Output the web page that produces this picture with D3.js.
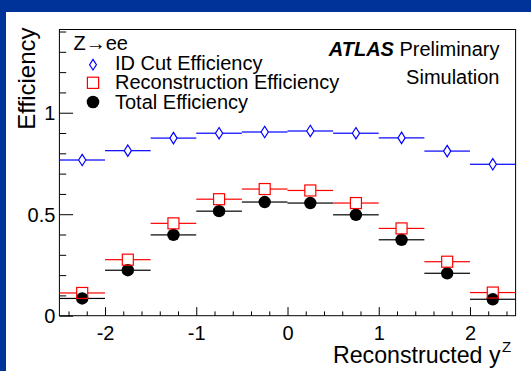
<!DOCTYPE html>
<html>
<head>
<meta charset="utf-8">
<script src="https://cdn.jsdelivr.net/npm/d3@7/dist/d3.min.js"></script>
<style>
  html, body { margin: 0; padding: 0; background: #fff; }
  svg { display: block; font-family: "Liberation Sans", Arial, Helvetica, sans-serif; }
</style>
</head>
<body>
<svg id="chart" width="531" height="371"></svg>
<script>
// Z -> ee efficiencies per bin of reconstructed boson rapidity
const rapidityBins = [-2.25, -1.75, -1.25, -0.75, -0.25, 0.25, 0.75, 1.25, 1.75, 2.25];
const binHalfWidth = 0.25;
const idCutEff = [0.767, 0.813, 0.875, 0.899, 0.905, 0.910, 0.899, 0.876, 0.811, 0.746];
const recoEff  = [0.112, 0.276, 0.455, 0.574, 0.624, 0.617, 0.555, 0.430, 0.266, 0.114];
const totalEff = [0.085, 0.224, 0.398, 0.515, 0.560, 0.555, 0.497, 0.374, 0.209, 0.081];

const xMajorTicks = [-2, -1, 0, 1, 2];
const xTickLabels = ["-2", "-1", "0", "1", "2"];
const yMajorTicks = [0, 0.5, 1];
const yTickLabels = ["0", "0.5", "1"];
const legendLabels = ["ID Cut Efficiency", "Reconstruction Efficiency", "Total Efficiency"];

const svg = d3.select("#chart");
const W = 531, H = 371;

// slide frame
svg.append("rect").attr("width", W).attr("height", H).attr("fill", "#003399");
svg.append("rect").attr("x", 6).attr("y", 12).attr("width", W - 6).attr("height", H - 12).attr("fill", "#fff");

const plot = { left: 59.4, right: 515.6, top: 29.5, bottom: 315.7 };
const x = d3.scaleLinear().domain([-2.5, 2.5]).range([plot.left, plot.right]);
const y = d3.scaleLinear().domain([0, 1.41]).range([plot.bottom, plot.top]);

// minor ticks
const xMinor = d3.range(-2.4, 2.41, 0.2).map(v => +v.toFixed(1)).filter(v => !xMajorTicks.includes(v));
const yMinor = d3.range(0.1, 1.41, 0.1).map(v => +v.toFixed(1)).filter(v => !yMajorTicks.includes(v));

const axisStyle = g => {
  g.select(".domain").remove();
  g.selectAll(".tick line").attr("stroke", "#000").attr("stroke-width", 1);
};

svg.append("g").attr("transform", `translate(0,${plot.bottom})`)
  .call(d3.axisBottom(x).tickValues(xMinor).tickSize(-4.3).tickFormat(""))
  .call(axisStyle);
svg.append("g").attr("transform", `translate(0,${plot.bottom})`)
  .call(d3.axisBottom(x).tickValues(xMajorTicks).tickSize(-8.6)
        .tickFormat((d, i) => xTickLabels[i]).tickPadding(0))
  .call(axisStyle)
  .call(g => g.selectAll(".tick text")
      .attr("y", 24).attr("dy", null)
      .attr("font-size", 20).attr("fill", "#000")
      .attr("font-family", "Liberation Sans, Arial, sans-serif"));

svg.append("g").attr("transform", `translate(${plot.left},0)`)
  .call(d3.axisLeft(y).tickValues(yMinor).tickSize(-6.8).tickFormat(""))
  .call(axisStyle);
svg.append("g").attr("transform", `translate(${plot.left},0)`)
  .call(d3.axisLeft(y).tickValues(yMajorTicks).tickSize(-13.7)
        .tickFormat((d, i) => yTickLabels[i]).tickPadding(0))
  .call(axisStyle)
  .call(g => g.selectAll(".tick text")
      .attr("x", -4).attr("dy", "0.36em")
      .attr("font-size", 20).attr("fill", "#000")
      .attr("font-family", "Liberation Sans, Arial, sans-serif"));

// plot frame
svg.append("rect")
  .attr("x", plot.left).attr("y", plot.top)
  .attr("width", plot.right - plot.left).attr("height", plot.bottom - plot.top)
  .attr("fill", "none").attr("stroke", "#000").attr("stroke-width", 1);

const diamond = (cx, cy, hw, hh) => `M${cx},${cy - hh}L${cx + hw},${cy}L${cx},${cy + hh}L${cx - hw},${cy}Z`;

const series = [
  { values: totalEff, color: "#000", kind: "circle", gap: 0 },
  { values: recoEff, color: "#ff0000", kind: "square", gap: 5.5 },
  { values: idCutEff, color: "#0000ff", kind: "diamond", gap: 3.6 }
];

series.forEach(s => {
  const g = svg.append("g");
  rapidityBins.forEach((c, i) => {
    const cx = x(c), cy = y(s.values[i]);
    const x0 = x(c - binHalfWidth), x1 = x(c + binHalfWidth);
    // horizontal bin-width bars, interrupted by open markers
    g.append("line").attr("x1", x0).attr("x2", cx - s.gap).attr("y1", cy).attr("y2", cy)
      .attr("stroke", s.color).attr("stroke-width", 1.2);
    g.append("line").attr("x1", cx + s.gap).attr("x2", x1).attr("y1", cy).attr("y2", cy)
      .attr("stroke", s.color).attr("stroke-width", 1.2);
    if (s.kind === "circle") {
      g.append("circle").attr("cx", cx).attr("cy", cy).attr("r", 6.2).attr("fill", "#000");
    } else if (s.kind === "square") {
      g.append("rect").attr("x", cx - 5.5).attr("y", cy - 5.5).attr("width", 11).attr("height", 11)
        .attr("fill", "none").attr("stroke", s.color).attr("stroke-width", 1.2);
    } else {
      g.append("path").attr("d", diamond(cx, cy, 3.6, 5.7))
        .attr("fill", "none").attr("stroke", s.color).attr("stroke-width", 1.2);
    }
  });
});

// legend
const leg = svg.append("g");
leg.append("text").attr("x", 73.5).attr("y", 50).attr("font-size", 20).text("Z\u2192ee");
const legY = [69.5, 89, 108.5];
const markerY = [64.7, 82.8, 102];
const mx = 93;
leg.append("path").attr("d", diamond(mx, markerY[0], 3.4, 5.3))
  .attr("fill", "none").attr("stroke", "#0000ff").attr("stroke-width", 1.2);
leg.append("rect").attr("x", mx - 5.6).attr("y", markerY[1] - 5.6).attr("width", 11.2).attr("height", 11.2)
  .attr("fill", "none").attr("stroke", "#ff0000").attr("stroke-width", 1.2);
leg.append("circle").attr("cx", mx).attr("cy", markerY[2]).attr("r", 6.3).attr("fill", "#000");
legendLabels.forEach((t, i) => {
  leg.append("text").attr("x", 115).attr("y", legY[i]).attr("font-size", 20).text(t);
});

// experiment label
const atlas = svg.append("text").attr("x", 499.5).attr("y", 56).attr("text-anchor", "end").attr("font-size", 20);
atlas.append("tspan").attr("font-weight", "bold").attr("font-style", "italic").text("ATLAS");
atlas.append("tspan").text(" Preliminary");
svg.append("text").attr("x", 499.5).attr("y", 83.5).attr("text-anchor", "end").attr("font-size", 20).text("Simulation");

// axis titles
svg.append("text").attr("x", 500.5).attr("y", 363).attr("text-anchor", "end").attr("font-size", 23.2)
  .text("Reconstructed y");
svg.append("text").attr("x", 502).attr("y", 352).attr("font-size", 15).text("Z");

svg.append("text").attr("transform", "translate(35,27.5) rotate(-90)")
  .attr("text-anchor", "end").attr("font-size", 24).text("Efficiency");
</script>
</body>
</html>
